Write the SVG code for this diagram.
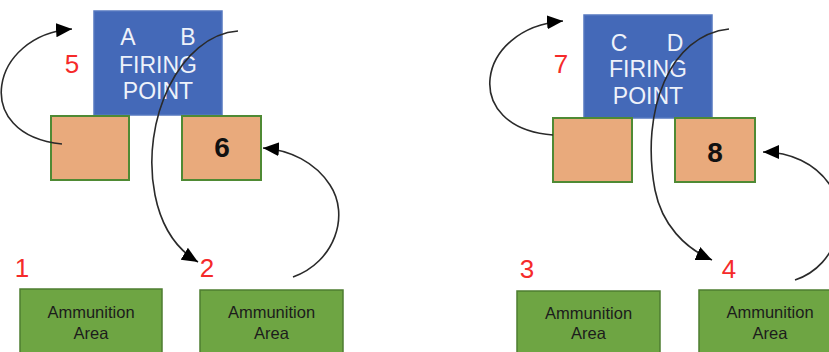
<svg xmlns="http://www.w3.org/2000/svg" width="829" height="352" viewBox="0 0 829 352">
<defs>
<style>
.fp{fill:#4469b8;stroke:#5578c0;stroke-width:1.5}
.sq{fill:#e9aa7c;stroke:#4f8a34;stroke-width:2}
.am{fill:#6ea543;stroke:#4e7d30;stroke-width:1.5}
.wt{font-family:"Liberation Sans",Arial,sans-serif;font-size:23px;fill:#eef2fa;text-anchor:middle}
.rd{font-family:"Liberation Sans",Arial,sans-serif;font-size:26px;fill:#f52a2a;text-anchor:middle}
.bk{font-family:"Liberation Sans",Arial,sans-serif;font-size:28px;font-weight:bold;fill:#111;text-anchor:middle}
.at{font-family:"Liberation Sans",Arial,sans-serif;font-size:16.5px;fill:#1c1c1c;text-anchor:middle}
.cn{fill:none;stroke:#2a2a2a;stroke-width:1.6;marker-end:url(#ah)}
</style>
<marker id="ah" markerUnits="userSpaceOnUse" markerWidth="18" markerHeight="16" refX="16" refY="7" orient="auto">
<path d="M0,0 L16,7 L0,14 z" fill="#000"/>
</marker>
</defs>
<rect width="829" height="352" fill="#fff"/>

<g id="fp-ab">
<rect class="fp" x="94" y="11" width="128" height="104"/>
<text class="wt" x="128" y="45">A</text>
<text class="wt" x="188" y="45">B</text>
<text class="wt" x="158" y="73">FIRING</text>
<text class="wt" x="158" y="99">POINT</text>
</g>
<g id="sq-left1"><rect class="sq" x="51" y="116" width="78" height="64"/></g>
<g id="sq-6"><rect class="sq" x="182" y="116" width="79" height="64"/><text class="bk" x="222" y="157">6</text></g>

<g id="fp-cd">
<rect class="fp" x="584" y="15" width="128" height="103"/>
<text class="wt" x="619" y="51">C</text>
<text class="wt" x="675" y="51">D</text>
<text class="wt" x="648" y="77">FIRING</text>
<text class="wt" x="648" y="104">POINT</text>
</g>
<g id="sq-left2"><rect class="sq" x="553" y="118" width="79" height="64"/></g>
<g id="sq-8"><rect class="sq" x="675" y="118" width="80" height="64"/><text class="bk" x="715" y="162">8</text></g>

<g id="am-1"><rect class="am" x="20" y="289" width="142" height="75"/><text class="at" x="91" y="318">Ammunition</text><text class="at" x="91" y="339">Area</text></g>
<g id="am-2"><rect class="am" x="200" y="290" width="143" height="75"/><text class="at" x="271.5" y="318">Ammunition</text><text class="at" x="271.5" y="339">Area</text></g>
<g id="am-3"><rect class="am" x="517" y="291" width="143" height="75"/><text class="at" x="588.5" y="319">Ammunition</text><text class="at" x="588.5" y="339">Area</text></g>
<g id="am-4"><rect class="am" x="699" y="290" width="142" height="75"/><text class="at" x="770" y="318">Ammunition</text><text class="at" x="770" y="339">Area</text></g>

<g id="labels">
<text class="rd" x="72" y="73">5</text>
<text class="rd" x="561" y="73">7</text>
<text class="rd" x="22" y="277">1</text>
<text class="rd" x="207" y="277">2</text>
<text class="rd" x="527" y="278">3</text>
<text class="rd" x="729" y="278">4</text>
</g>

<g id="connectors">
<path class="cn" d="M62,144 C-30,135 -10,35 72,29"/>
<path class="cn" d="M238,31 C180,35 140,120 155,195 C162,230 178,250 198,262"/>
<path class="cn" d="M293,277 C335,262 350,215 330,185 C315,162 290,150 263,148"/>
<path class="cn" d="M553,135 C460,128 475,28 563,21"/>
<path class="cn" d="M729,29 C670,35 640,110 655,190 C662,225 685,248 712,260"/>
<path class="cn" d="M795,280 C840,265 850,210 830,185 C815,163 790,152 763,152"/>
</g>
</svg>
